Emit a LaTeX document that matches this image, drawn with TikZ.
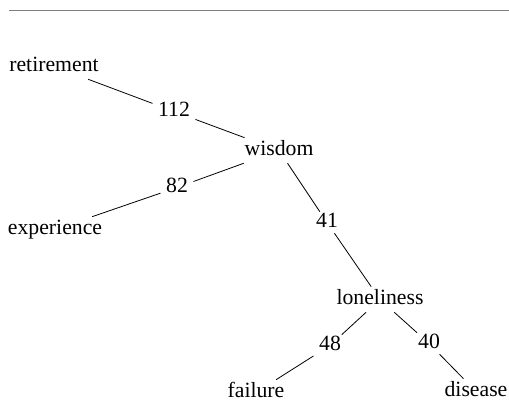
\documentclass[tikz,border=0pt]{standalone}
\usepackage{fontspec}
\setmainfont{Liberation Serif}
\usetikzlibrary{calc}

\begin{document}
\begin{tikzpicture}[x=0.75pt,y=-0.75pt,
    word/.style={anchor=base,inner xsep=7pt,inner ysep=6pt,text height=0.68em,text depth=0pt,font=\fontsize{16.3}{19}\selectfont},
    weight/.style={word,inner xsep=4pt,inner ysep=4.5pt}]
  \begin{scope}
    \useasboundingbox (0,0) rectangle (509,400);
    \draw[gray,line width=1.1pt] (9,10.5) -- (509,10.5);

    \node[word] (retirement) at (54,71) {retirement};
    \node[word] (wisdom) at (279,155) {wisdom};
    \node[word] (experience) at (55,234) {experience};
    \node[word] (loneliness) at (380,304) {loneliness};
    \node[word] (failure) at (256,397) {failure};
    \node[word] (disease) at (476,396) {disease};

    \node[weight] (w112) at (174,116) {112};
    \node[weight] (w82) at (177,192) {82};
    \node[weight] (w41) at (327,227) {41};
    \node[weight] (w48) at (330,350) {48};
    \node[weight] (w40) at (429,348) {40};

    \foreach \a/\b in {retirement/w112,w112/wisdom,
                       experience/w82,w82/wisdom,
                       wisdom/w41,w41/loneliness,
                       loneliness/w48,w48/failure,
                       loneliness/w40,w40/disease} {
      \draw[line width=0.6pt] (\a) -- (\b);
    }
  \end{scope}
\end{tikzpicture}
\end{document}
